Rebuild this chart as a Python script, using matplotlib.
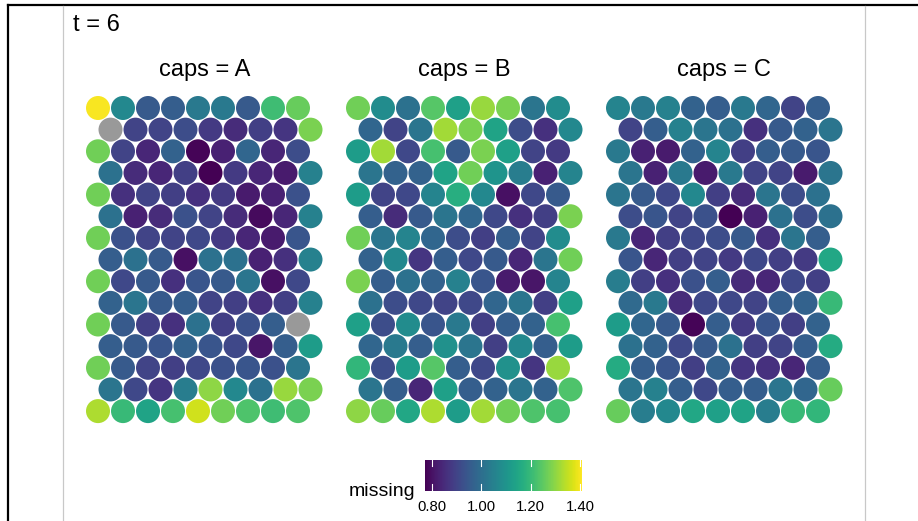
import numpy as np
import matplotlib
matplotlib.use("Agg")
import matplotlib.pyplot as plt
from matplotlib.patches import Circle
from matplotlib.collections import PatchCollection
from matplotlib.colors import Normalize
from matplotlib.lines import Line2D
import matplotlib.cm as cm

plt.rcParams['font.family'] = ['Liberation Sans', 'DejaVu Sans']

nan = np.nan
title_text = "t = 6"
panels = ["caps = A", "caps = B", "caps = C"]
legend_title = "missing"
cbar_ticks = [0.80, 1.00, 1.20, 1.40]
vmin, vmax = 0.773, 1.407

caps_A = [
    [1.40, 1.07, 0.95, 0.96, 1.03, 1.03, 0.95, 1.21, 1.26],
    [nan, 0.90, 0.90, 0.92, 0.88, 0.85, 0.89, 0.87, 1.28],
    [1.27, 0.90, 0.84, 0.97, 0.78, 0.83, 0.98, 0.84, 0.92],
    [1.01, 0.85, 0.84, 0.89, 0.775, 0.88, 0.84, 0.82, 1.05],
    [1.27, 0.86, 0.90, 0.89, 0.86, 0.88, 0.82, 0.83, 0.93],
    [1.01, 0.83, 0.85, 0.93, 0.90, 0.85, 0.79, 0.84, 1.05],
    [1.27, 0.93, 0.90, 0.90, 0.91, 0.88, 0.84, 0.82, 0.94],
    [0.96, 1.01, 0.95, 0.80, 1.01, 1.01, 0.83, 0.86, 1.05],
    [1.27, 0.91, 0.95, 0.86, 0.94, 0.95, 1.02, 0.80, 0.91],
    [0.97, 1.02, 0.95, 0.96, 0.90, 0.89, 0.86, 0.89, 1.05],
    [1.27, 0.95, 0.89, 0.86, 1.01, 0.89, 0.93, 0.96, nan],
    [0.96, 0.95, 0.94, 0.97, 0.94, 0.91, 0.81, 0.96, 1.12],
    [1.27, 0.95, 0.90, 0.89, 0.91, 0.93, 0.94, 0.93, 1.02],
    [1.02, 0.91, 0.87, 1.04, 1.30, 1.07, 1.01, 1.31, 1.28],
    [1.33, 1.20, 1.14, 1.22, 1.36, 1.27, 1.23, 1.21, 1.23],
]

caps_B = [
    [1.27, 1.08, 1.01, 1.24, 1.13, 1.31, 1.28, 1.02, 1.08],
    [0.98, 0.90, 1.02, 1.32, 1.28, 1.14, 0.92, 0.86, 1.07],
    [1.12, 1.32, 0.91, 1.22, 0.95, 1.28, 1.13, 0.90, 0.88],
    [1.02, 0.97, 0.97, 1.14, 1.27, 1.10, 1.04, 0.83, 1.06],
    [1.12, 0.90, 0.91, 1.06, 1.17, 1.07, 0.80, 0.91, 0.95],
    [0.96, 0.85, 0.95, 1.02, 0.98, 0.91, 0.86, 0.89, 1.28],
    [1.27, 1.02, 1.06, 0.98, 0.92, 0.89, 0.96, 0.90, 1.08],
    [0.97, 1.07, 0.87, 0.96, 0.91, 0.95, 0.84, 1.02, 1.27],
    [1.28, 0.96, 1.01, 0.97, 1.05, 0.94, 0.82, 0.81, 1.06],
    [1.01, 0.92, 0.91, 0.90, 0.91, 0.98, 1.02, 0.89, 1.13],
    [1.13, 0.92, 1.08, 0.94, 1.03, 0.89, 0.96, 0.97, 1.22],
    [0.98, 1.03, 0.96, 1.09, 1.02, 0.89, 1.07, 0.96, 1.12],
    [1.19, 0.92, 1.12, 1.24, 0.96, 0.91, 1.09, 0.87, 1.31],
    [1.02, 0.96, 0.84, 1.13, 0.96, 0.97, 1.02, 0.97, 1.23],
    [1.30, 1.26, 1.15, 1.33, 1.12, 1.32, 1.27, 1.23, 1.22],
]

caps_C = [
    [1.06, 1.03, 1.05, 0.97, 0.96, 1.03, 0.98, 0.90, 0.96],
    [0.90, 0.96, 1.05, 1.02, 1.01, 0.86, 0.95, 0.97, 1.02],
    [1.03, 0.83, 0.82, 0.97, 1.06, 0.89, 0.96, 0.95, 0.94],
    [1.02, 0.83, 1.03, 0.82, 1.03, 0.90, 0.90, 0.82, 1.02],
    [1.02, 0.95, 0.91, 1.07, 0.89, 0.85, 1.02, 0.92, 1.01],
    [0.92, 0.94, 0.90, 0.93, 0.775, 0.83, 1.01, 0.92, 1.01],
    [1.03, 0.84, 0.89, 0.91, 0.92, 0.95, 0.86, 1.02, 0.96],
    [0.94, 0.84, 0.89, 0.90, 0.88, 0.91, 0.89, 0.88, 1.15],
    [1.04, 0.89, 0.86, 0.93, 0.96, 0.85, 0.84, 0.91, 0.89],
    [0.99, 1.03, 0.85, 0.91, 0.91, 0.90, 0.96, 0.97, 1.20],
    [1.12, 0.98, 0.95, 0.78, 0.96, 0.88, 0.94, 0.89, 0.97],
    [1.01, 0.97, 0.91, 0.95, 1.01, 0.89, 0.90, 0.96, 1.16],
    [1.16, 0.96, 0.94, 0.89, 0.97, 0.87, 0.86, 0.84, 0.96],
    [1.02, 1.05, 0.96, 0.91, 0.96, 0.96, 1.02, 0.98, 1.26],
    [1.26, 1.04, 1.07, 1.15, 1.13, 1.14, 1.04, 1.20, 1.19],
]

data = [caps_A, caps_B, caps_C]

W, H = 918, 521
fig = plt.figure(figsize=(W / 100, H / 100), dpi=100)
fig.patch.set_facecolor("white")

cmap = matplotlib.colormaps["viridis"].copy()
cmap.set_bad("#999999")
norm = Normalize(vmin=vmin, vmax=vmax)

def px_rect(x0, y0, w, h):
    return [x0 / W, 1 - (y0 + h) / H, w / W, h / H]

unit = 25.0
s3 = np.sqrt(3) / 2
xlim = (-0.5, 9.0)
ylim = (-14 * s3 - 0.5, 0.5)
ax_w = (xlim[1] - xlim[0]) * unit
ax_h = (ylim[1] - ylim[0]) * unit

for k, (vals, name) in enumerate(zip(data, panels)):
    arr = np.array(vals, dtype=float)
    nrow, ncol = arr.shape
    left = 98 + 260 * k - 0.5 * unit
    top = 108 - 0.5 * unit
    ax = fig.add_axes(px_rect(left, top, ax_w, ax_h))
    patches, v = [], []
    for r in range(nrow):
        for c in range(ncol):
            x = c + 0.5 * (r % 2)
            y = -r * s3
            patches.append(Circle((x, y), 0.48))
            v.append(arr[r, c])
    pc = PatchCollection(patches, cmap=cmap, norm=norm, edgecolor="none")
    pc.set_array(np.ma.masked_invalid(np.array(v)))
    ax.add_collection(pc)
    ax.set_xlim(*xlim)
    ax.set_ylim(*ylim)
    ax.set_aspect("auto")
    ax.axis("off")
    cx = (98 + 260 * k + 98 + 260 * k + 8.5 * unit) / 2
    fig.text(cx / W, 1 - 70 / H, name, ha="center", va="center", fontsize=17, color="black")

fig.text(73 / W, 1 - 25 / H, title_text, ha="left", va="center", fontsize=17)

# colorbar
cax = fig.add_axes(px_rect(425, 459.5, 157, 31))
sm = cm.ScalarMappable(norm=norm, cmap=matplotlib.colormaps["viridis"])
cb = fig.colorbar(sm, cax=cax, orientation="horizontal", ticks=cbar_ticks)
cb.outline.set_visible(False)
cb.ax.set_xticklabels([f"{t:.2f}" for t in cbar_ticks])
cb.ax.tick_params(length=0, pad=7, labelsize=10.7, colors="black")
for t in cbar_ticks:
    cax.axvline(t, ymin=0, ymax=0.2, color="white", lw=0.8)
    cax.axvline(t, ymin=0.8, ymax=1, color="white", lw=0.8)
fig.text(415 / W, 1 - 491 / H, legend_title, ha="right", va="center", fontsize=14)

# frame lines
fig.add_artist(Line2D([8 / W, 1], [1 - 5 / H, 1 - 5 / H], color="black", lw=1.6, transform=fig.transFigure))
fig.add_artist(Line2D([8 / W, 8 / W], [0, 1 - 5 / H], color="black", lw=1.6, transform=fig.transFigure))
for gx in (63, 865):
    fig.add_artist(Line2D([gx / W, gx / W], [0, 1 - 6 / H], color="#c8c8c8", lw=0.9, transform=fig.transFigure))

fig.savefig("out.png", dpi=100, facecolor="white")
